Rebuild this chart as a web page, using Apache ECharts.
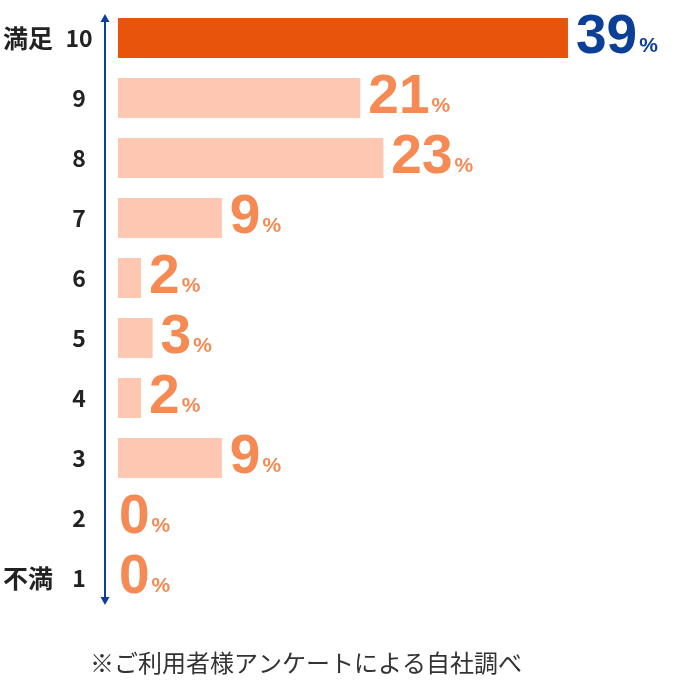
<!DOCTYPE html>
<html><head><meta charset="utf-8">
<script src="https://cdn.jsdelivr.net/npm/echarts@6/dist/echarts.min.js"></script>
<style>html,body{margin:0;padding:0;background:#fff}#c{width:680px;height:680px}</style>
</head><body><div id="c"></div>
<script>
const categories = ['10','9','8','7','6','5','4','3','2','1'];
const values = [39,21,23,9,2,3,2,9,0,0];
const endLabels = ['満足','','','','','','','','','不満'];
const footnote = '※ご利用者様アンケートによる自社調べ';

const ORANGE = '#f58a55', BLUE = '#0c3f97';
const chart = echarts.init(document.getElementById('c'));
const numFont = '"Liberation Sans", Arial, sans-serif';
const jpFont = '"Noto Sans CJK JP", sans-serif';
chart.setOption({
  animation: false,
  title: {text: footnote, left: 85, top: 646, textStyle: {fontFamily: jpFont, fontSize: 24, fontWeight: 'normal', color: '#333'}},
  grid: {left: 118, right: 42.8, top: 8, bottom: 72},
  xAxis: {type: 'value', min: 0, max: 45, show: false},
  yAxis: {
    type: 'category', data: categories, inverse: true,
    axisLine: {show: false}, axisTick: {show: false},
    axisLabel: {
      margin: 21,
      formatter: (v, i) => endLabels[i] ? '{a|' + endLabels[i] + '}{b|' + v + '}' : '{b|' + v + '}',
      rich: {
        a: {fontFamily: jpFont, fontSize: 25, fontWeight: 'bold', color: '#222', width: 58, align: 'left'},
        b: {fontFamily: jpFont, fontSize: 23, fontWeight: 'bold', color: '#222', width: 36, align: 'center'}
      }
    }
  },
  series: [{
    type: 'bar',
    data: values.map(v => v === 0 ? {value: v, label: {distance: 1}} : v),
    barWidth: 40,
    itemStyle: {color: p => p.dataIndex === 0 ? '#e9540d' : '#fec7b2'},
    label: {
      show: true, position: 'right', distance: 8,
      formatter: p => p.dataIndex === 0 ? '{bn|' + p.value + '}{bp|%}' : '{n|' + p.value + '}{p|%}',
      rich: {
        n: {fontFamily: numFont, fontSize: 55, fontWeight: 'bold', color: ORANGE, lineHeight: 54},
        p: {fontFamily: numFont, fontSize: 21, fontWeight: 'bold', color: ORANGE, verticalAlign: 'bottom', padding: [0,0,8,2], lineHeight: 54},
        bn: {fontFamily: numFont, fontSize: 55, fontWeight: 'bold', color: BLUE, lineHeight: 54},
        bp: {fontFamily: numFont, fontSize: 21, fontWeight: 'bold', color: BLUE, verticalAlign: 'bottom', padding: [0,0,8,2], lineHeight: 54}
      }
    }
  }],
  graphic: [
    {type: 'line', shape: {x1: 105, y1: 20, x2: 105, y2: 599}, style: {stroke: BLUE, lineWidth: 2}},
    {type: 'polygon', shape: {points: [[105,14],[100.5,22],[109.5,22]]}, style: {fill: BLUE}},
    {type: 'polygon', shape: {points: [[105,605],[100.5,597],[109.5,597]]}, style: {fill: BLUE}}
  ]
});
</script></body></html>
